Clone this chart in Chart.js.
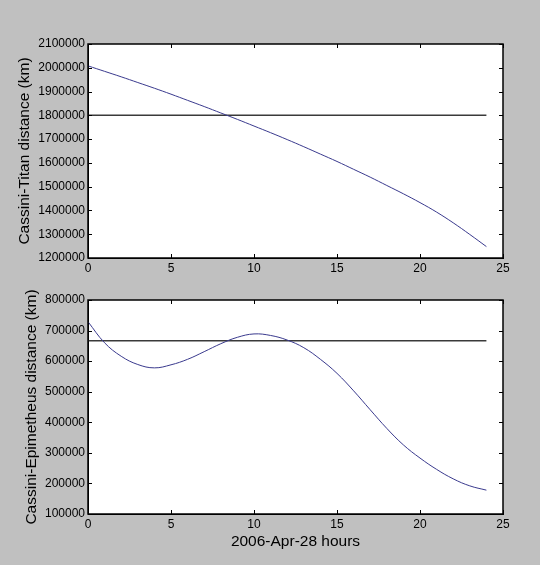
<!DOCTYPE html>
<html>
<head>
<meta charset="utf-8">
<script src="https://cdn.jsdelivr.net/npm/chart.js@4.4.0/dist/chart.umd.min.js"></script>
<style>
  body { margin: 0; background: #c0c0c0; }
  #wrap { position: relative; width: 540px; height: 565px; }
  .box { position: absolute; left: 0; width: 540px; height: 280px; }
</style>
</head>
<body>
<div id="wrap">
  <div class="box" style="top:0"><canvas id="titan"></canvas></div>
  <div class="box" style="top:285px"><canvas id="epi"></canvas></div>
</div>
<script>
// hours since 2006-04-28 00:00
const hours = [0,1,2,3,4,5,6,7,8,9,10,11,12,13,14,15,16,17,18,19,20,21,22,23,24];

// Cassini-Titan distance (km)
const titanDist = [2008000,1985000,1962000,1938000,1914000,1889000,1863000,1837000,1810000,1783000,
                   1755000,1727000,1698000,1668000,1637000,1606000,1573000,1540000,1505000,1470000,
                   1433000,1393000,1348000,1299000,1248000];
const titanRef = 1800000;

// Cassini-Epimetheus distance (km)
const epiDist = [729000,660000,616000,589000,578000,588000,606000,631000,657000,678000,
                 689000,684000,669000,644000,606000,560000,503000,441000,380000,326000,
                 283000,246000,215000,192000,178000];
const epiRef = 667000;

const xTicks = [0,5,10,15,20,25];
const titanTicks = [1200000,1300000,1400000,1500000,1600000,1700000,1800000,1900000,2000000,2100000];
const epiTicks = [100000,200000,300000,400000,500000,600000,700000,800000];

const font = "'Liberation Sans', Arial, sans-serif";

// white plot area, frame and inward tick marks like the original
const frame = {
    id: 'frame',
    beforeDraw(chart) {
        const a = chart.chartArea, c = chart.ctx;
        c.save();
        c.fillStyle = '#fff';
        c.fillRect(a.left, a.top, a.right - a.left, a.bottom - a.top);
        c.restore();
    },
    afterDraw(chart) {
        const a = chart.chartArea, c = chart.ctx;
        c.save();
        c.strokeStyle = '#000';
        c.lineWidth = 1;
        c.beginPath();
        chart.scales.x.ticks.forEach(t => {
            const px = Math.round(chart.scales.x.getPixelForValue(t.value)) + 0.5;
            c.moveTo(px, a.bottom); c.lineTo(px, a.bottom - 4);
            c.moveTo(px, a.top); c.lineTo(px, a.top + 4);
        });
        chart.scales.y.ticks.forEach(t => {
            const py = Math.round(chart.scales.y.getPixelForValue(t.value)) + 0.5;
            c.moveTo(a.left, py); c.lineTo(a.left + 4, py);
            c.moveTo(a.right, py); c.lineTo(a.right - 4, py);
        });
        c.stroke();
        c.lineWidth = 1.5;
        c.strokeRect(a.left, a.top, a.right - a.left, a.bottom - a.top);
        c.restore();
    }
};

function makeChart(id, ys, ref, yTicks, yTitle, xTitle, pad, yWidth, xHeight) {
    const ctx = document.getElementById(id);
    new Chart(ctx, {
        type: 'line',
        data: {
            datasets: [{
                data: hours.map((h, i) => ({x: h, y: ys[i]})),
                borderColor: '#3a3a8e',
                borderWidth: 1,
                pointRadius: 0,
                tension: 0.4
            }, {
                data: [{x: hours[0], y: ref}, {x: hours[hours.length - 1], y: ref}],
                borderColor: '#3a3a3a',
                borderWidth: 1.5,
                pointRadius: 0
            }]
        },
        options: {
            responsive: true,
            maintainAspectRatio: false,
            animation: false,
            layout: { padding: pad },
            plugins: { legend: { display: false }, tooltip: { enabled: false } },
            scales: {
                x: {
                    type: 'linear',
                    min: xTicks[0],
                    max: xTicks[xTicks.length - 1],
                    afterBuildTicks: s => { s.ticks = xTicks.map(v => ({value: v})); },
                    afterFit: s => { s.height = xHeight; },
                    grid: { drawOnChartArea: false, drawTicks: false },
                    border: { color: '#000' },
                    ticks: { color: '#000', padding: 3, font: { family: font, size: 12 } },
                    title: {
                        display: !!xTitle,
                        text: xTitle,
                        color: '#000',
                        padding: { top: 2, bottom: 0 },
                        font: { family: font, size: 15.5 }
                    }
                },
                y: {
                    min: yTicks[0],
                    max: yTicks[yTicks.length - 1],
                    afterBuildTicks: s => { s.ticks = yTicks.map(v => ({value: v})); },
                    afterFit: s => { s.width = yWidth; },
                    grid: { drawOnChartArea: false, drawTicks: false },
                    border: { color: '#000' },
                    ticks: { color: '#000', padding: 3, font: { family: font, size: 12 },
                             callback: v => String(v) },
                    title: {
                        display: true,
                        text: yTitle,
                        color: '#000',
                        padding: { top: 0, bottom: 2 },
                        font: { family: font, size: 15.5 }
                    }
                }
            }
        },
        plugins: [frame]
    });
}

makeChart('titan', titanDist, titanRef, titanTicks, 'Cassini-Titan distance (km)', '',
          { top: 44, right: 37, left: 15, bottom: 0 }, 73, 22);
makeChart('epi', epiDist, epiRef, epiTicks, 'Cassini-Epimetheus distance (km)', '2006-Apr-28 hours',
          { top: 15, right: 37, left: 22, bottom: 14 }, 66, 37);
</script>
</body>
</html>
